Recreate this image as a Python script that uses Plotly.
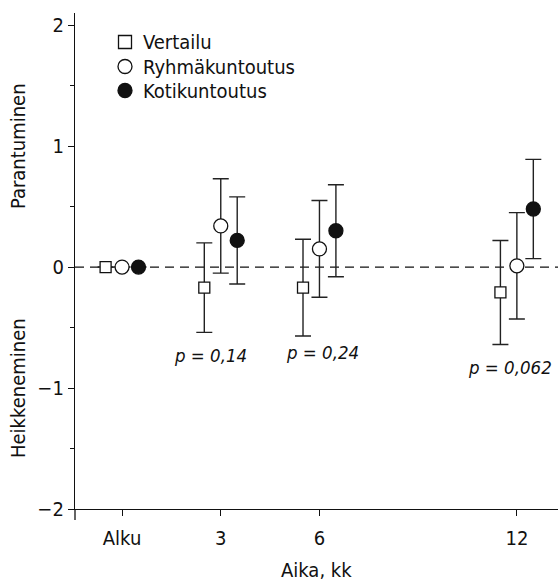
import plotly.graph_objects as go

# Follow-up time points (months) and their axis labels
timepoints = [0, 3, 6, 12]
tick_labels = ["Alku", "3", "6", "12"]

# Mean change from baseline with 95 % CI half-widths per group
groups = ["Vertailu", "Ryhmäkuntoutus", "Kotikuntoutus"]
vertailu_mean = [0.0, -0.17, -0.17, -0.21]
vertailu_ci = [None, 0.37, 0.40, 0.43]
ryhma_mean = [0.0, 0.34, 0.15, 0.01]
ryhma_ci = [None, 0.39, 0.40, 0.44]
koti_mean = [0.0, 0.22, 0.30, 0.48]
koti_ci = [None, 0.36, 0.38, 0.41]

# Between-group p-values at each follow-up point
p_labels = ["p = 0,14", "p = 0,24", "p = 0,062"]
p_label_x = [2.7, 6.1, 11.8]
p_label_y = [-0.73, -0.71, -0.83]

FONT = "DejaVu Sans Condensed, Liberation Sans Narrow, Noto Sans, sans-serif"
INK = "#111111"

# Plot area in pixels (for paper-coordinate conversions)
L, R, T, B = 75, 0, 13, 72
W, H = 558, 581
PW, PH = W - L - R, H - T - B

series = [
    (groups[0], vertailu_mean, vertailu_ci, "square", "white", 11, -0.5),
    (groups[1], ryhma_mean, ryhma_ci, "circle", "white", 14, 0.0),
    (groups[2], koti_mean, koti_ci, "circle", INK, 14, 0.5),
]

fig = go.Figure()

for name, mean, ci, symbol, fill, size, shift in series:
    fig.add_trace(go.Scatter(
        x=[t + shift for t in timepoints],
        y=mean,
        mode="markers",
        name=name,
        showlegend=False,
        marker=dict(symbol=symbol, size=size, color=fill,
                    line=dict(color=INK, width=1.3)),
        error_y=dict(type="data", array=ci, visible=True,
                     color="#222222", thickness=1.4, width=8),
        cliponaxis=False,
    ))

# Zero reference line
fig.add_shape(type="line", xref="paper", yref="y", x0=0, x1=1, y0=0, y1=0,
              line=dict(color=INK, width=1.3, dash="9px,6px"), layer="below")

# Left spine continues a little below the time axis
fig.add_shape(type="line", xref="paper", yref="paper", x0=0, x1=0,
              y0=0, y1=-11 / PH, line=dict(color=INK, width=1.3))

# Key in the upper-left corner
key_x = (125 - L) / PW
key_text_x = (141 - L) / PW
key_rows = [42, 66.5, 90.5]
key_shapes = [("rect", 13, "white"), ("circle", 14, "white"), ("circle", 14, INK)]
for name, py, (kind, sz, fill) in zip(groups, key_rows, key_shapes):
    yp = (H - B - py) / PH
    h = sz / 2
    fig.add_shape(type=kind, xref="paper", yref="paper",
                  xsizemode="pixel", ysizemode="pixel",
                  xanchor=key_x, yanchor=yp,
                  x0=-h, x1=h, y0=-h, y1=h,
                  fillcolor=fill, line=dict(color=INK, width=1.3))
    fig.add_annotation(x=key_text_x, y=yp, xref="paper", yref="paper",
                       xanchor="left", yanchor="middle", text=name,
                       showarrow=False,
                       font=dict(family=FONT, size=20, color=INK))

for px, py, lab in zip(p_label_x, p_label_y, p_labels):
    fig.add_annotation(x=px, y=py, text=f"<i>{lab}</i>", showarrow=False,
                       xanchor="center", yanchor="middle",
                       font=dict(family=FONT, size=18.5, color=INK))

# Direction labels on the vertical axis
for txt, yv in (("Parantuminen", 1), ("Heikkeneminen", -1)):
    fig.add_annotation(x=0, xref="paper", xshift=-57, y=yv, yref="y",
                       xanchor="center", yanchor="middle",
                       text=txt, textangle=-90, showarrow=False,
                       font=dict(family=FONT, size=20, color=INK))

# Horizontal axis title
fig.add_annotation(x=0.5, xref="paper", y=0, yref="paper", yshift=-61,
                   xanchor="center", yanchor="middle",
                   text="Aika, kk", showarrow=False,
                   font=dict(family=FONT, size=20, color=INK))

fig.update_layout(
    width=W, height=H,
    margin=dict(l=L, r=R, t=T, b=B),
    paper_bgcolor="white", plot_bgcolor="white",
    font=dict(family=FONT, size=20, color=INK),
    showlegend=False,
)

fig.update_xaxes(
    range=[-1.43, 13.25],
    tickvals=timepoints, ticktext=tick_labels,
    showline=True, linecolor=INK, linewidth=1.3,
    ticks="outside", ticklen=6, tickcolor=INK, tickwidth=1.3,
    ticklabelstandoff=5,
    showgrid=False, zeroline=False,
)
fig.update_yaxes(
    range=[-2, 2.1],
    tickvals=[-2, -1, 0, 1, 2], ticktext=["\u22122", "\u22121", "0", "1", "2"],
    showline=True, linecolor=INK, linewidth=1.3,
    ticks="outside", ticklen=6, tickcolor=INK, tickwidth=1.3,
    minor=dict(dtick=0.5, tick0=0, ticks="outside", ticklen=4,
               tickcolor=INK, tickwidth=1.3, showgrid=False),
    showgrid=False, zeroline=False,
)

fig.write_html("out.html")
